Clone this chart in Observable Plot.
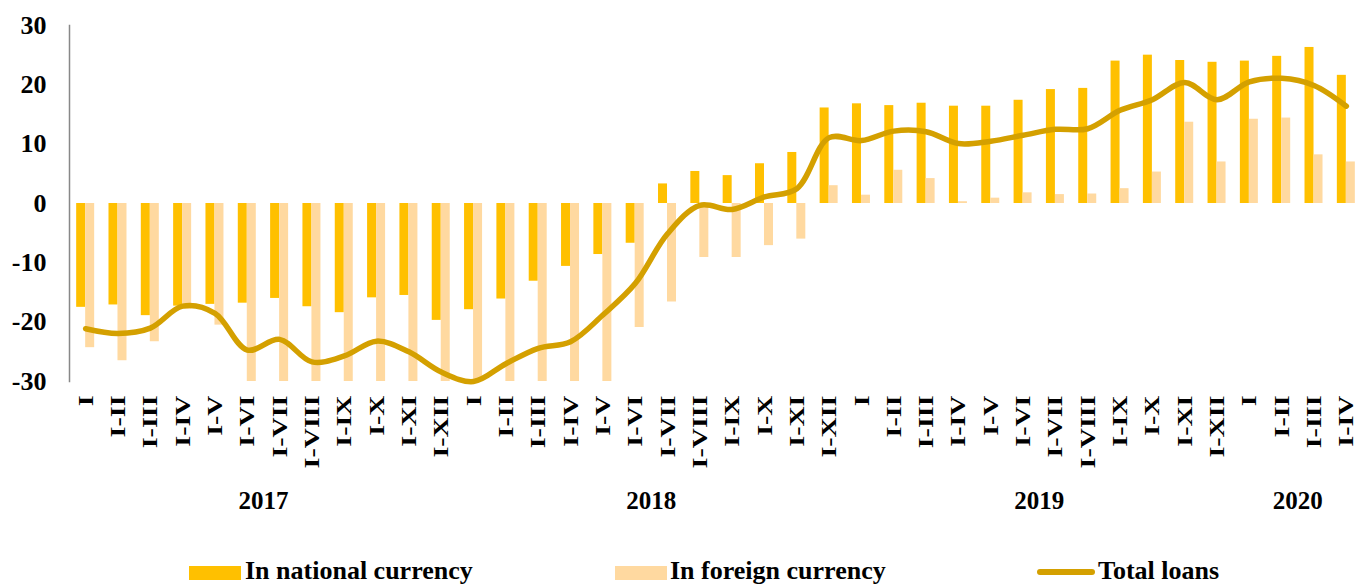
<!DOCTYPE html>
<html>
<head>
<meta charset="utf-8">
<script src="https://cdn.jsdelivr.net/npm/d3@7"></script>
<script src="https://cdn.jsdelivr.net/npm/@observablehq/plot@0.6"></script>
<style>
  html, body { margin: 0; padding: 0; background: #fff; }
  #wrap { position: relative; width: 1358px; height: 585px; overflow: hidden; font-family: "Liberation Serif", "Times New Roman", serif; }
  #chart svg { display: block; }
  .lg { position: absolute; font-size: 26px; font-weight: bold; line-height: 26px; white-space: nowrap; color: #000; font-family: "Liberation Serif", "Times New Roman", serif; }
  .sw { position: absolute; }
</style>
</head>
<body>
<div id="wrap">
  <div id="chart"></div>
  <div class="sw" style="left:189px; top:566px; width:52px; height:14px; background:#FFC000;"></div>
  <div class="lg" style="left:245px; top:558px;">In national currency</div>
  <div class="sw" style="left:615px; top:566px; width:52px; height:14px; background:#FFD9A0;"></div>
  <div class="lg" style="left:670px; top:558px;">In foreign currency</div>
  <div class="sw" style="left:1037px; top:569px; width:58px; height:6px; border-radius:3px; background:#D4A000;"></div>
  <div class="lg" style="left:1098px; top:558px;">Total loans</div>
</div>
<script>
const years = ["2017", "2018", "2019", "2020"];
const monthsPerYear = [12, 12, 12, 4];
const periodLabels = ["I", "I-II", "I-III", "I-IV", "I-V", "I-VI", "I-VII", "I-VIII", "I-IX", "I-X", "I-XI", "I-XII"];

const national = [
  -17.5, -17.1, -18.9, -17.3, -17.0, -16.8, -16.0, -17.4, -18.4, -15.9, -15.5, -19.7,
  -17.9, -16.1, -13.1, -10.6, -8.6, -6.7, 3.3, 5.4, 4.7, 6.7, 8.6, 16.1,
  16.8, 16.5, 16.9, 16.4, 16.4, 17.4, 19.2, 19.4, 24.0, 25.0, 24.1, 23.8,
  24.0, 24.8, 26.3, 21.6
];
const foreign = [
  -24.3, -26.5, -23.3, -17.8, -20.5, -30, -30, -30, -30, -30, -30, -30,
  -30, -30, -30, -30, -30, -20.9, -16.6, -9.1, -9.1, -7.1, -6.0, 3.0,
  1.4, 5.6, 4.2, 0.3, 0.9, 1.8, 1.5, 1.6, 2.5, 5.3, 13.7, 7.0,
  14.2, 14.4, 8.2, 7.0
];
const total = [
  -21.1, -21.9, -21.0, -17.3, -18.5, -24.7, -22.9, -26.7, -25.7, -23.2, -25.0, -28.4,
  -30.0, -27.0, -24.4, -23.3, -18.8, -13.5, -5.1, -0.3, -1.0, 1.1, 2.5, 11.1,
  10.6, 12.2, 12.1, 10.1, 10.5, 11.5, 12.5, 12.6, 15.7, 17.5, 20.4, 17.5,
  20.5, 21.1, 19.9, 16.4
];
const yTicks = [-30, -20, -10, 0, 10, 20, 30];

// Build table
const rows = [];
const yearRows = [];
years.forEach((yr, yi) => {
  const start = rows.length;
  for (let m = 0; m < monthsPerYear[yi]; m++) {
    const i = rows.length;
    rows.push({key: yr + " " + periodLabels[m], label: periodLabels[m], national: national[i], foreign: foreign[i], total: total[i]});
  }
  yearRows.push({key: rows[start + monthsPerYear[yi] / 2].key, year: yr});
});
const keys = rows.map(d => d.key);
const labelOf = new Map(rows.map(d => [d.key, d.label]));

const W = 1358, H = 545;
const x0 = 69, x1 = 1362;
const step = (x1 - x0) / keys.length;
const barW = 9;
const font = "'Liberation Serif', 'Times New Roman', serif";

const chart = Plot.plot({
  width: W,
  height: H,
  marginLeft: x0,
  marginRight: 0,
  marginTop: 25,
  marginBottom: H - 381,
  style: {fontFamily: font, color: "#000", background: "#fff"},
  x: {domain: keys, range: [x0, x1], padding: 0, round: false},
  y: {domain: [-30, 30]},
  marks: [
    Plot.barY(rows, {x: "key", y: "national", fill: "#FFC000", insetLeft: step / 2 - barW, insetRight: step / 2}),
    Plot.barY(rows, {x: "key", y: "foreign", fill: "#FFD9A0", insetLeft: step / 2, insetRight: step / 2 - barW}),
    Plot.line(rows, {x: "key", y: "total", stroke: "#D4A000", strokeWidth: 5.5, curve: "catmull-rom", strokeLinecap: "round"}),
    Plot.frame({anchor: "left", stroke: "#888", strokeWidth: 1.5}),
    Plot.axisY({ticks: yTicks, tickSize: 0, tickPadding: 23, fontSize: 26, fontWeight: "bold", label: null, tickFormat: d => String(d)}),
    Plot.axisX({tickSize: 0, tickPadding: 14, tickRotate: -90, fontSize: 22, fontWeight: "bold", label: null, tickFormat: k => labelOf.get(k)}),
    Plot.text(yearRows, {x: "key", text: "year", frameAnchor: "bottom", dy: 119, dx: -step / 2, fontSize: 25, fontWeight: "bold", lineAnchor: "middle", fill: "#000"})
  ]
});
// stretch rotated period labels along their length, as in the reference
d3.select(chart).selectAll('g[aria-label="x-axis tick label"] text').each(function () {
  const t = this.getAttribute("transform") || "";
  this.setAttribute("transform", t + " scale(1.27,1)");
});
document.getElementById("chart").appendChild(chart);
</script>
</body>
</html>
